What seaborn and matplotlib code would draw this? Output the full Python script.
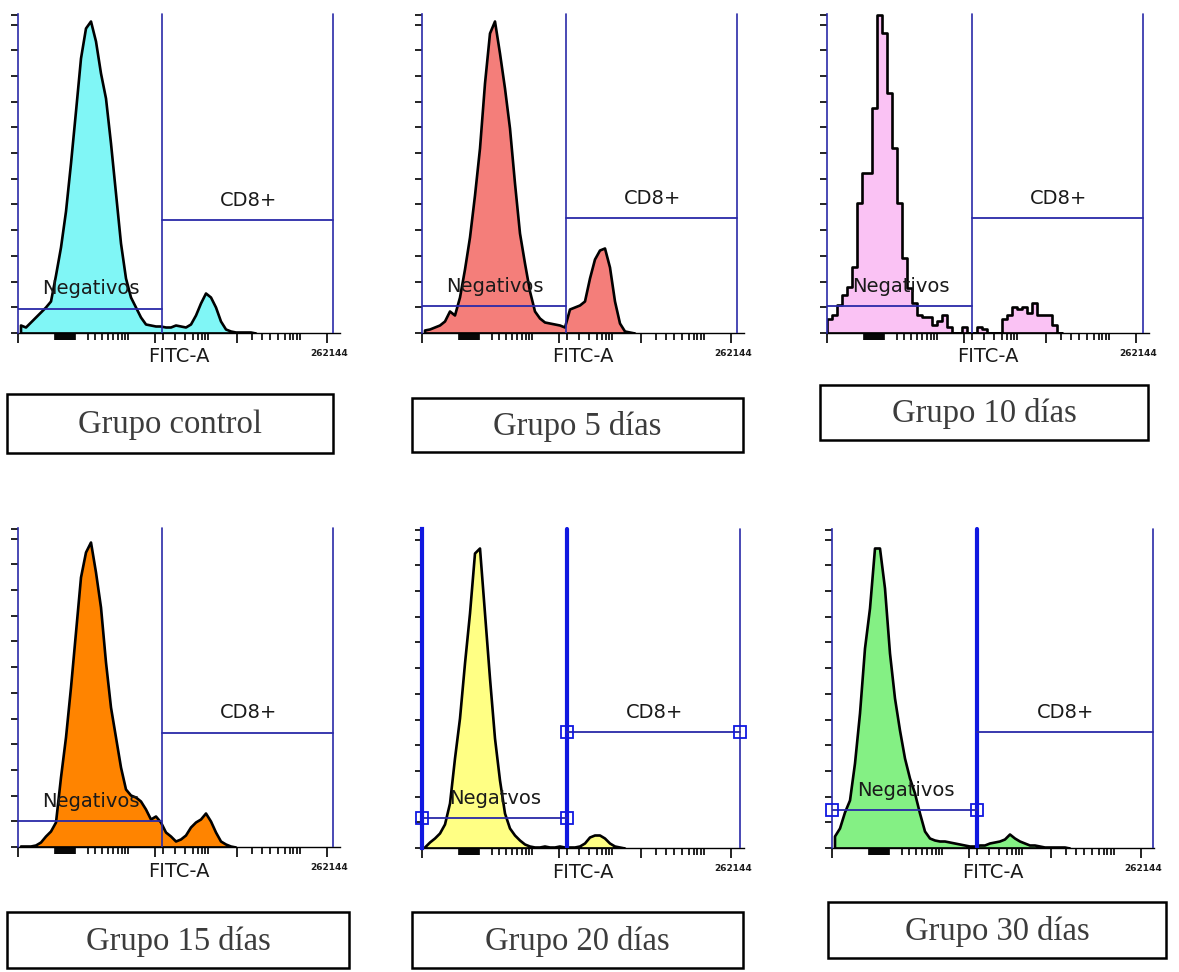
import numpy as np
import pandas as pd
import matplotlib
matplotlib.use("Agg")
import matplotlib.pyplot as plt
from matplotlib.patches import Rectangle
import seaborn as sns

# histogram counts, 5 channel-px per bin
BIN = 5
control = [8, 6, 11, 16, 21, 26, 32, 58, 86, 122, 170, 222, 275, 305, 312, 292, 260, 235, 190, 140,
           90, 55, 36, 26, 16, 9, 8, 7, 7, 6, 6, 8, 7, 6, 9, 18, 30, 40, 36, 26, 12, 4, 2, 1, 1, 1, 1, 0]
dias5 = [3, 4, 6, 8, 12, 22, 18, 36, 64, 96, 138, 185, 250, 300, 312, 280, 245, 205, 150, 100,
         70, 42, 22, 15, 11, 10, 9, 8, 6, 24, 26, 28, 32, 55, 74, 83, 85, 66, 32, 10, 2, 1, 0]
dias10 = [14, 18, 28, 38, 46, 66, 130, 160, 160, 225, 318, 300, 240, 185, 130, 75, 45, 30, 18, 16,
          16, 8, 12, 18, 6, 0, 0, 6, 0, 0, 6, 4, 0, 0, 0, 14, 18, 26, 24, 26, 20, 30, 18, 18, 18, 8, 0]
dias15 = [1, 1, 1, 2, 5, 11, 16, 25, 70, 110, 160, 215, 270, 295, 305, 275, 240, 185, 140, 110,
          80, 58, 52, 50, 46, 38, 28, 31, 25, 15, 11, 6, 8, 12, 20, 25, 28, 34, 26, 15, 6, 3, 1, 0]
dias20 = [1, 6, 10, 15, 24, 45, 90, 130, 185, 235, 295, 300, 235, 170, 110, 68, 35, 20, 13, 8,
          4, 2, 1, 1, 2, 1, 1, 2, 1, 1, 1, 2, 5, 11, 13, 13, 10, 5, 2, 1, 0]
dias30 = [12, 20, 36, 48, 85, 135, 200, 240, 300, 300, 260, 195, 150, 118, 90, 70, 55, 35, 17, 10,
          8, 7, 7, 6, 5, 4, 3, 2, 2, 3, 3, 5, 6, 7, 9, 14, 10, 7, 5, 3, 3, 2, 1, 1, 1, 1, 1, 0]

groups = ["Grupo control", "Grupo 5 días", "Grupo 10 días",
          "Grupo 15 días", "Grupo 20 días", "Grupo 30 días"]
series = [control, dias5, dias10, dias15, dias20, dias30]
fills = ["#80f6f6", "#f47e7a", "#fac2f4", "#ff8400", "#ffff84", "#84f084"]
elements = ["poly", "poly", "step", "poly", "poly", "poly"]
neg_names = ["Negativos", "Negativos", "Negativos", "Negativos", "Negatvos", "Negativos"]

# gates
neg_gate = [24, 27, 27, 26, 30, 38]
cd8_gate = [113, 115, 115, 114, 116, 116]
mid_gate = [144, 144, 145, 144, 145, 145]
right_gate = [315, 315, 316, 315, 318, 321]

# layout in pixels: left axis x, baseline y, label box
W, H = 1179, 972
origins = [(18, 333), (422, 333), (827, 333), (18, 847), (422, 848), (832, 848)]
boxes = [(7, 394, 326, 59), (412, 398, 331, 54), (820, 385, 328, 55),
         (7, 912, 342, 56), (412, 912, 331, 56), (828, 902, 338, 56)]

GATE = "#2a2aa8"
THICK = "#1018e0"

sns.set_style("white")
plt.rcParams["font.family"] = ["DejaVu Sans"]

fig = plt.figure(figsize=(W / 100, H / 100), dpi=100)

maj_ticks = [0, 137, 219, 309]
min_ticks = list(range(37, 58)) + [70, 77, 84, 90, 95, 100, 104, 107, 110,
                                   145, 157, 167, 175, 180, 184, 187, 190,
                                   234, 244, 252, 260, 267, 272, 275, 279, 282]
ytick_pos = list(np.arange(13) * 25.7) + [318]

for i in range(6):
    x0, y0 = origins[i]
    S = 340
    ax = fig.add_axes([x0 / W, (H - y0) / H, S / W, S / H])
    counts = series[i]
    n = len(counts)
    df = pd.DataFrame({"FITC-A": [BIN * k + BIN / 2 for k in range(n)], "count": counts})
    sns.histplot(data=df, x="FITC-A", weights="count", binwidth=BIN, binrange=(0, n * BIN),
                 element=elements[i], fill=True, color=fills[i], alpha=1,
                 edgecolor="black", linewidth=1.9, ax=ax)
    ax.set_xlim(0, S)
    ax.set_ylim(0, S)
    ax.set_xlabel("")
    ax.set_ylabel("")
    ax.patch.set_alpha(0)

    for s in ["top", "right"]:
        ax.spines[s].set_visible(False)
    ax.spines["bottom"].set_bounds(0, 322)
    ax.spines["bottom"].set_color("black")
    ax.spines["bottom"].set_linewidth(1)
    ax.spines["left"].set_bounds(0, 319)
    ax.spines["left"].set_color(THICK if i == 4 else GATE)
    ax.spines["left"].set_linewidth(3 if i == 4 else 1.2)
    ax.spines["left"].set_zorder(5)

    ax.set_xticks(maj_ticks)
    ax.set_xticks(min_ticks, minor=True)
    ax.set_yticks(ytick_pos)
    ax.tick_params(axis="x", which="both", bottom=True, labelbottom=False)
    ax.tick_params(axis="x", which="major", length=7, width=1.2, color="black",
                   direction="out")
    ax.tick_params(axis="x", which="minor", length=5, width=1.2, color="black",
                   direction="out")
    ax.tick_params(axis="y", left=True, length=5, width=1.2, color="black",
                   direction="out", labelleft=False)

    lo, hi, mg, rg = neg_gate[i], cd8_gate[i], mid_gate[i], right_gate[i]
    mid_lw = 3 if i >= 4 else 1.2
    mid_col = THICK if i >= 4 else GATE
    ax.plot([mg, mg], [0, 319], color=mid_col, lw=mid_lw, zorder=4)
    ax.plot([rg, rg], [0, 319], color=GATE, lw=1.2, zorder=4)
    ax.plot([mg, rg], [hi, hi], color=GATE, lw=1.3, zorder=4)
    ax.plot([0, mg], [lo, lo], color=GATE, lw=1.3, zorder=4)
    if i == 4:
        ax.plot([0, mg, mg, rg], [lo, lo, hi, hi], ls="none", marker="s", ms=9,
                mfc="none", mec=THICK, mew=1.3, zorder=6, clip_on=False)
    if i == 5:
        ax.plot([0, mg], [lo, lo], ls="none", marker="s", ms=9,
                mfc="none", mec=THICK, mew=1.3, zorder=6, clip_on=False)

    ax.text(mg / 2 + 1, lo + 20, neg_names[i], ha="center", va="center",
            fontsize=14, color="#1a1a1a", zorder=7)
    ax.text((mg + rg) / 2 + 1, hi + 20, "CD8+", ha="center", va="center",
            fontsize=14, color="#1a1a1a", zorder=7)
    ax.text(161, -24, "FITC-A", ha="center", va="center", fontsize=14,
            color="#1a1a1a", clip_on=False)
    ax.text(311, -20, "262144", ha="center", va="center", fontsize=6.5,
            fontweight="bold", color="#1a1a1a", clip_on=False)

for i in range(6):
    bx, by, bw, bh = boxes[i]
    fig.patches.append(Rectangle((bx / W, 1 - (by + bh) / H), bw / W, bh / H,
                                 transform=fig.transFigure, fill=False,
                                 edgecolor="black", linewidth=1.8))
    fig.text((bx + bw / 2) / W, 1 - (by + bh / 2 + 1) / H, groups[i],
             ha="center", va="center", fontsize=23.5, color="#3c3c3c",
             family=["Liberation Serif", "DejaVu Serif"])

fig.savefig("out.png", dpi=100, facecolor="white")
